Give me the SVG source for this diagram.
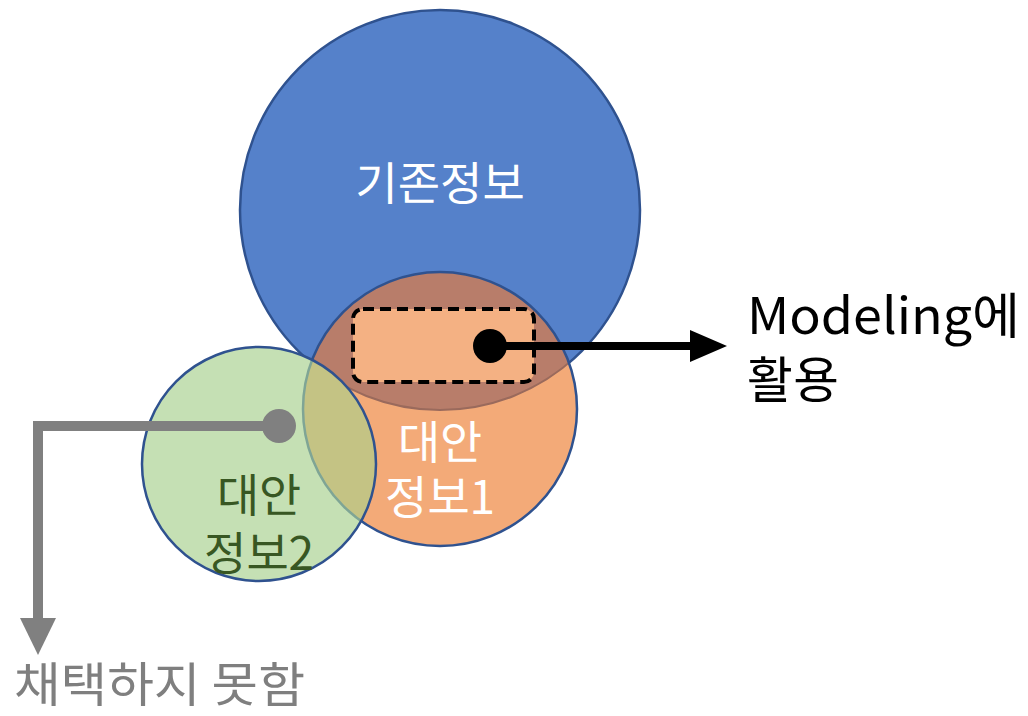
<svg xmlns="http://www.w3.org/2000/svg" width="1028" height="716" viewBox="0 0 1028 716">
<style>
text{font-family:"Noto Sans KR","Noto Sans CJK KR","Liberation Sans",sans-serif;}
.w{fill:#ffffff;font-size:46px;text-anchor:middle;}
.g{fill:#385723;font-size:46px;text-anchor:middle;}
.k{fill:#000000;font-size:50px;}
.gr{fill:#7f7f7f;font-size:48px;}
.ol{stroke:#2f528f;stroke-width:2.5;}
</style>
<defs>
<clipPath id="cb"><circle cx="440" cy="210" r="200"/></clipPath>
<clipPath id="co"><circle cx="440" cy="409" r="137"/></clipPath>
<clipPath id="cg"><circle cx="259" cy="464" r="117"/></clipPath>
</defs>
<g id="node-existing">
<circle cx="440" cy="210" r="200" fill="#5581ca" class="ol"/>
<text class="w" x="440" y="200">기존정보</text>
</g>
<g id="node-alt1">
<circle cx="440" cy="409" r="137" fill="#f3aa78"/>
<circle cx="440" cy="409" r="137" fill="#b87d6a" clip-path="url(#cb)"/>
<circle cx="440" cy="210" r="200" fill="none" stroke="#9a6a5c" stroke-width="2" clip-path="url(#co)"/>
<circle cx="440" cy="409" r="137" fill="none" class="ol"/>
<rect x="353" y="309" width="181" height="73" rx="10" fill="#f4b183" stroke="#000" stroke-width="4" stroke-dasharray="11 6"/>
<text class="w" x="440" y="459">대안</text>
<text class="w" x="440" y="514">정보1</text>
</g>
<g id="node-alt2">
<circle cx="259" cy="464" r="117" fill="#c5e0b4"/>
<circle cx="440" cy="409" r="137" fill="#c4c384" clip-path="url(#cg)"/>
<circle cx="440" cy="409" r="137" fill="none" stroke="#7fa595" stroke-width="2.5" clip-path="url(#cg)"/>
<circle cx="259" cy="464" r="117" fill="none" class="ol"/>
<text class="g" x="259" y="512">대안</text>
<text class="g" x="259" y="570">정보2</text>
</g>
<g id="connectors">
<circle cx="490" cy="346" r="17" fill="#000"/>
<line x1="490" y1="346" x2="693" y2="346" stroke="#000" stroke-width="8"/>
<polygon points="690,330 727,346 690,362" fill="#000"/>
<circle cx="279" cy="426" r="17" fill="#808080"/>
<polyline points="279,426 38,426 38,622" fill="none" stroke="#808080" stroke-width="10"/>
<polygon points="20,618 56,618 38,655" fill="#808080"/>
</g>
<g id="labels">
<text class="k" x="747" y="334" textLength="273" lengthAdjust="spacingAndGlyphs">Modeling에</text>
<text class="k" x="747" y="398">활용</text>
<text class="gr" x="14" y="702" textLength="291" lengthAdjust="spacingAndGlyphs">채택하지 못함</text>
</g>
</svg>
